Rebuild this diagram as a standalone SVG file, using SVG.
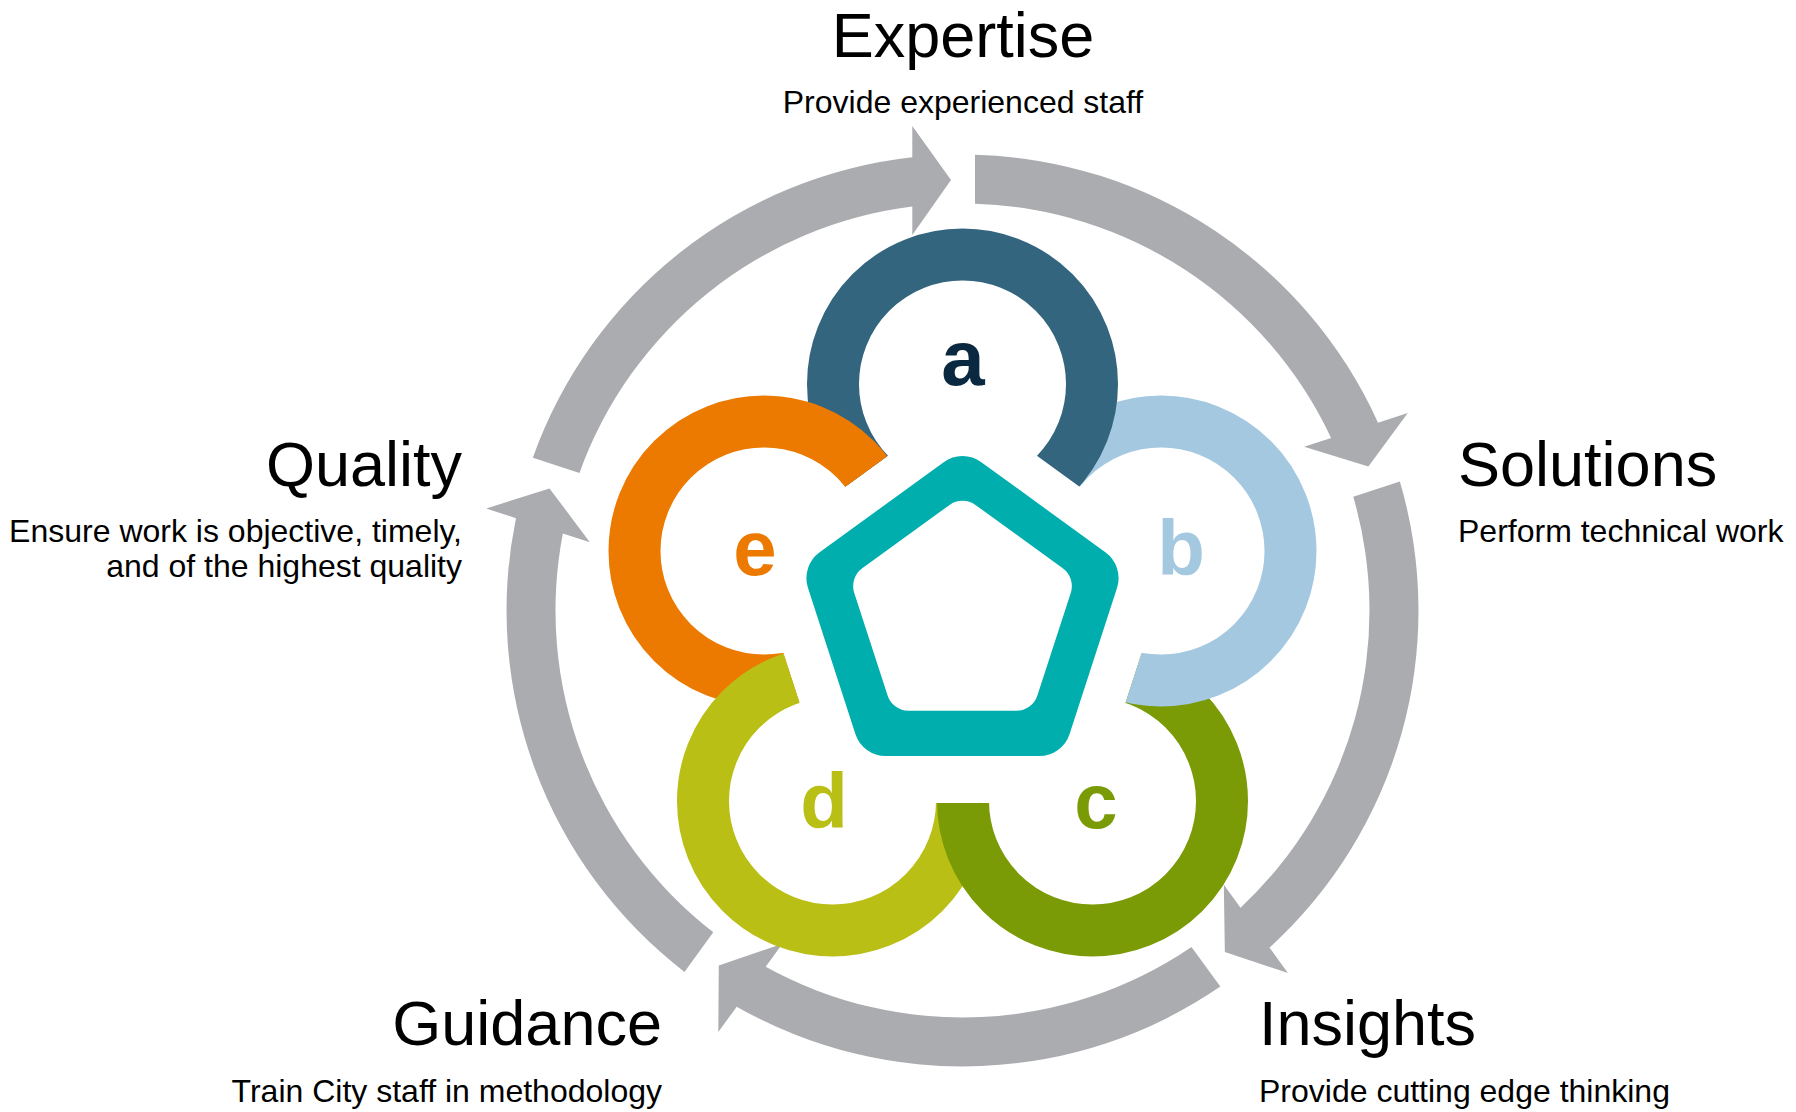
<svg xmlns="http://www.w3.org/2000/svg" xmlns:xlink="http://www.w3.org/1999/xlink" width="1796" height="1112" viewBox="0 0 1796 1112">
  <style>
    .ring { fill: none; stroke-width: 52; }
    .txt { font-family: "Liberation Sans", Arial, Helvetica, sans-serif; fill: #000000; }
    .title { font-size: 63px; }
    .sub { font-size: 32px; }
    .letter { font-family: "Liberation Sans", Arial, Helvetica, sans-serif; font-weight: bold; font-size: 78px; text-anchor: middle; }
    .arrow { fill: #ABACAF; }
  </style>
  <defs>
    <clipPath id="outside">
      <path clip-rule="evenodd" d="M0 0H1796V1112H0Z M962.5 401.6 L1173.54 554.93 L1092.93 803.02 L832.07 803.02 L751.46 554.93 Z"/>
    </clipPath>
    <clipPath id="diskA">
      <circle cx="962.5" cy="384" r="156"/>
    </clipPath>
    <path id="arrowShape" d="M 532.86 457.75 A 456 456 0 0 1 912.3 157.3 L 912.3 126 L 951 180 L 912.3 235 L 912.3 206.6 A 407 407 0 0 0 579.48 472.9 Z"/>
  </defs>
  <rect x="0" y="0" width="1796" height="1112" fill="#FFFFFF"/>

  <g id="connectors">
    <use href="#arrowShape" class="arrow"/>
    <use href="#arrowShape" class="arrow" transform="rotate(72 962.5 610.5)"/>
    <use href="#arrowShape" class="arrow" transform="rotate(144 962.5 610.5)"/>
    <use href="#arrowShape" class="arrow" transform="rotate(216 962.5 610.5)"/>
    <use href="#arrowShape" class="arrow" transform="rotate(288 962.5 610.5)"/>
  </g>

  <g id="node-e">
    <circle id="ringE" class="ring" cx="764" cy="551" r="129.5" stroke="#EC7A00" clip-path="url(#outside)"/>
    <text class="letter" x="755" y="575" fill="#EC7A00">e</text>
  </g>
  <g id="node-d">
    <circle class="ring" cx="832.5" cy="801" r="129.5" stroke="#B9BF15" clip-path="url(#outside)"/>
    <text class="letter" x="824" y="828" fill="#B9BF15">d</text>
  </g>
  <g id="node-c">
    <circle class="ring" cx="1092.5" cy="801" r="129.5" stroke="#7B9B06" clip-path="url(#outside)"/>
    <text class="letter" x="1096" y="828" fill="#7B9B06">c</text>
  </g>
  <g id="node-b">
    <circle class="ring" cx="1161" cy="551" r="129.5" stroke="#A5C8E1" clip-path="url(#outside)"/>
    <text class="letter" x="1181" y="575" fill="#A5C8E1">b</text>
  </g>
  <g id="node-a">
    <circle class="ring" cx="962.5" cy="384" r="129.5" stroke="#34657F" clip-path="url(#outside)"/>
    <text class="letter" x="963" y="385" fill="#0A2940">a</text>
  </g>
  <g id="node-e-overlap" clip-path="url(#diskA)">
    <use href="#ringE"/>
  </g>

  <g id="node-center">
    <path fill="#00AEAD" fill-rule="evenodd" d="M 943.69 462.17 A 32 32 0 0 1 981.31 462.17 L 1105.37 552.30 A 32 32 0 0 1 1117.00 588.08 L 1069.60 733.92 A 32 32 0 0 1 1039.17 756.03 L 885.83 756.03 A 32 32 0 0 1 855.40 733.92 L 808.00 588.08 A 32 32 0 0 1 819.63 552.30 Z M 949.57 504.89 A 22 22 0 0 1 975.43 504.89 L 1062.75 568.34 A 22 22 0 0 1 1070.74 592.93 L 1037.39 695.57 A 22 22 0 0 1 1016.47 710.77 L 908.53 710.77 A 22 22 0 0 1 887.61 695.57 L 854.26 592.93 A 22 22 0 0 1 862.25 568.34 Z"/>
  </g>

  <g id="label-expertise" class="txt" text-anchor="middle">
    <text class="title" x="963" y="57">Expertise</text>
    <text class="sub" x="963" y="113">Provide experienced staff</text>
  </g>
  <g id="label-solutions" class="txt" text-anchor="start">
    <text class="title" x="1458" y="486">Solutions</text>
    <text class="sub" x="1458" y="542">Perform technical work</text>
  </g>
  <g id="label-insights" class="txt" text-anchor="start">
    <text class="title" x="1259" y="1045">Insights</text>
    <text class="sub" x="1259" y="1102">Provide cutting edge thinking</text>
  </g>
  <g id="label-guidance" class="txt" text-anchor="end">
    <text class="title" x="662" y="1045">Guidance</text>
    <text class="sub" x="662" y="1102">Train City staff in methodology</text>
  </g>
  <g id="label-quality" class="txt" text-anchor="end">
    <text class="title" x="462" y="486">Quality</text>
    <text class="sub" x="462" y="542">Ensure work is objective, timely,</text>
    <text class="sub" x="462" y="577">and of the highest quality</text>
  </g>
</svg>
